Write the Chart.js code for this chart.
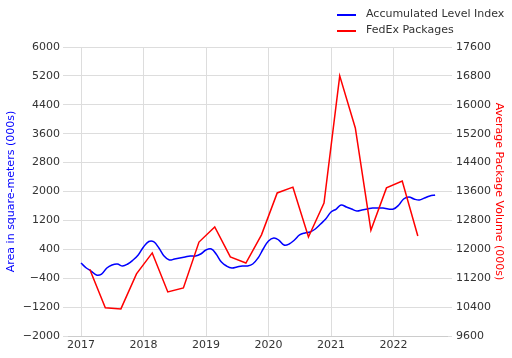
<!DOCTYPE html>
<html>
<head>
<meta charset="utf-8">
<script src="https://cdn.jsdelivr.net/npm/chart.js@4/dist/chart.umd.min.js"></script>
<style>
  html, body { margin: 0; padding: 0; background: #fff; }
  #wrap { position: relative; width: 512px; height: 358px; }
  #legend { position: absolute; left: 337px; top: 6px; font-family: "DejaVu Sans", sans-serif; font-size: 11px; color: #333; }
  .item { position: relative; height: 16px; line-height: 16px; white-space: nowrap; }
  .swatch { position: absolute; left: 0; top: 8px; width: 19px; height: 1.5px; }
  .lbl { position: absolute; left: 29px; top: 0; }
</style>
</head>
<body>
<div id="wrap">
  <canvas id="c" width="512" height="358"></canvas>
  <div id="legend"></div>
</div>
<script>
// ---- data ----
const indexMonths = [
  "2017-01","2017-02","2017-03","2017-04","2017-05","2017-06","2017-07","2017-08","2017-09","2017-10","2017-11","2017-12",
  "2018-01","2018-02","2018-03","2018-04","2018-05","2018-06","2018-07","2018-08","2018-09","2018-10","2018-11","2018-12",
  "2019-01","2019-02","2019-03","2019-04","2019-05","2019-06","2019-07","2019-08","2019-09","2019-10","2019-11","2019-12",
  "2020-01","2020-02","2020-03","2020-04","2020-05","2020-06","2020-07","2020-08","2020-09","2020-10","2020-11","2020-12",
  "2021-01","2021-02","2021-03","2021-04","2021-05","2021-06","2021-07","2021-08","2021-09","2021-10","2021-11","2021-12",
  "2022-01","2022-02","2022-03","2022-04","2022-05","2022-06","2022-07","2022-08","2022-09"
];
const accumulatedLevelIndex = [
  21, -118, -201, -312, -284, -118, -35, -7, -62, -7, 104, 242,
  464, 615, 610, 436, 214, 104, 131, 159, 187, 214, 214, 270,
  380, 408, 270, 48, -62, -118, -90, -62, -62, -7, 159, 408,
  630, 713, 657, 519, 547, 657, 796, 851, 879, 962, 1100, 1239,
  1432, 1515, 1626, 1571, 1515, 1460, 1488, 1515, 1543, 1543, 1543, 1515,
  1515, 1626, 1792, 1848, 1792, 1765, 1820, 1875, 1903
];
const fedexDates = [
  "2017-02-21","2017-05-23","2017-08-22","2017-11-21",
  "2018-02-21","2018-05-23","2018-08-22","2018-11-21",
  "2019-02-21","2019-05-23","2019-08-22","2019-11-21",
  "2020-02-21","2020-05-23","2020-08-22","2020-11-21",
  "2021-02-21","2021-05-23","2021-08-22","2021-11-21",
  "2022-02-21","2022-05-23"
];
const fedexPackages = [
  11450, 10380, 10350, 11320,
  11900, 10820, 10930, 12200,
  12620, 11790, 11620, 12400,
  13560, 13720, 12340, 13280,
  16800, 15360, 12530, 13700,
  13890, 12370
];
const yearTicks = [2017, 2018, 2019, 2020, 2021, 2022];
const leftTicks = [-2000, -1200, -400, 400, 1200, 2000, 2800, 3600, 4400, 5200, 6000];
const rightTicks = [9600, 10400, 11200, 12000, 12800, 13600, 14400, 15200, 16000, 16800, 17600];
const seriesNames = ["Accumulated Level Index", "FedEx Packages"];
const seriesColors = ["#0000ff", "#ff0000"];

// ---- helpers ----
function toYear(s) {
  const p = s.split("-").map(Number);
  const y = p[0], m = p[1], d = p[2] || 1;
  const start = Date.UTC(y, 0, 1), end = Date.UTC(y + 1, 0, 1);
  return y + (Date.UTC(y, m - 1, d) - start) / (end - start);
}
const fmt = v => (v < 0 ? "\u2212" + Math.abs(v) : String(v));

const blueData = indexMonths.map((m, i) => ({ x: toYear(m), y: accumulatedLevelIndex[i] }));
const redData = fedexDates.map((d, i) => ({ x: toYear(d), y: fedexPackages[i] }));

// legend (HTML)
const lg = document.getElementById("legend");
seriesNames.forEach((n, i) => {
  const it = document.createElement("div");
  it.className = "item";
  it.innerHTML = '<span class="swatch" style="background:' + seriesColors[i] + '"></span><span class="lbl">' + n + '</span>';
  lg.appendChild(it);
});

const FONT = { family: "DejaVu Sans", size: 11 };
const GRID = "#dddddd";

new Chart(document.getElementById("c"), {
  type: "line",
  data: {
    datasets: [
      { label: seriesNames[0], data: blueData, yAxisID: "y", borderColor: seriesColors[0], borderWidth: 1.5,
        pointRadius: 0, tension: 0.4, order: 1, fill: false },
      { label: seriesNames[1], data: redData, yAxisID: "y1", borderColor: seriesColors[1], borderWidth: 1.5,
        pointRadius: 0, tension: 0, order: 0, fill: false }
    ]
  },
  options: {
    responsive: false,
    animation: false,
    layout: { padding: { top: 47, left: 0, right: 0, bottom: 0 } },
    plugins: { legend: { display: false }, tooltip: { enabled: false } },
    scales: {
      x: {
        type: "linear",
        min: 2016.792,
        max: 2022.856,
        afterBuildTicks: s => { s.ticks = yearTicks.map(v => ({ value: v })); },
        afterFit: s => { s.height = 22; },
        ticks: { font: FONT, color: "#333", padding: 3, maxRotation: 0, callback: v => String(v) },
        grid: { color: GRID, drawTicks: false, lineWidth: 1 },
        border: { display: true, color: "#cccccc" }
      },
      y: {
        position: "left",
        min: -2000, max: 6000,
        afterBuildTicks: s => { s.ticks = leftTicks.map(v => ({ value: v })); },
        afterFit: s => { s.width = 68; },
        ticks: { font: FONT, color: "#333", padding: 3, callback: v => fmt(v) },
        grid: { color: GRID, drawTicks: true, tickLength: 5 },
        border: { display: false },
        title: { display: true, text: "Area in square-meters (000s)", color: "#0000ff", font: FONT,
                 padding: { top: 5, bottom: 0 } }
      },
      y1: {
        position: "right",
        min: 9600, max: 17600,
        afterBuildTicks: s => { s.ticks = rightTicks.map(v => ({ value: v })); },
        afterFit: s => { s.width = 65; },
        ticks: { font: FONT, color: "#333", padding: 4, callback: v => String(v) },
        grid: { color: GRID, drawOnChartArea: false, drawTicks: true, tickLength: 5 },
        border: { display: false },
        title: { display: true, text: "Average Package Volume (000s)", color: "#ff0000", font: FONT,
                 padding: { top: 7, bottom: 0 } }
      }
    }
  }
});
</script>
</body>
</html>
